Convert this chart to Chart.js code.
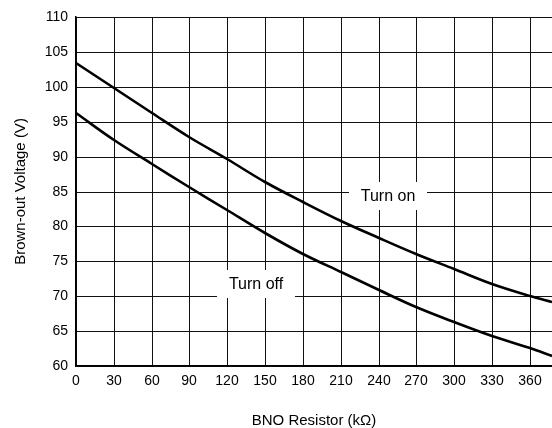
<!DOCTYPE html>
<html>
<head>
<meta charset="utf-8">
<script src="https://cdn.jsdelivr.net/npm/chart.js@4/dist/chart.umd.min.js"></script>
<style>
  html, body { margin: 0; padding: 0; background: #fff; }
  #wrap { width: 552px; height: 428px; position: relative; }
</style>
</head>
<body>
<div id="wrap"><canvas id="chart"></canvas></div>
<script>
  // BNO resistor (kOhm) sample points.
  const resistorK = [0, 30, 60, 90, 120, 150, 180, 210, 240, 270, 300, 330, 360, 377.5];
  const turnOnV = [103.4, 99.8, 96.2, 92.8, 89.6, 86.4, 83.5, 80.8, 78.3, 76.0, 73.9, 71.8, 70.1, 69.1];
  const turnOffV = [96.3, 92.4, 88.9, 85.6, 82.3, 79.1, 76.1, 73.4, 70.9, 68.5, 66.3, 64.3, 62.6, 61.5];

  // Curve labels, anchored in data coordinates.
  const labelNames = ["Turn on", "Turn off"];
  const labelX = [247.5, 142.7];
  const labelY = [84.3, 71.7];

  const FONT = "'Liberation Sans', Arial, sans-serif";

  function toPoints(xs, ys) {
    return xs.map(function (x, i) { return { x: x, y: ys[i] }; });
  }

  // White boxes with the curve names, drawn over the grid but under the curves.
  const curveLabels = {
    id: "curveLabels",
    beforeDatasetsDraw: function (chart) {
      const ctx = chart.ctx;
      const xs = chart.scales.x, ys = chart.scales.y;
      ctx.save();
      ctx.font = "16px " + FONT;
      ctx.textAlign = "center";
      ctx.textBaseline = "middle";
      labelNames.forEach(function (name, i) {
        const cx = xs.getPixelForValue(labelX[i]);
        const cy = ys.getPixelForValue(labelY[i]);
        ctx.fillStyle = "#fff";
        ctx.fillRect(cx - 39, cy - 14, 78, 28);
        ctx.fillStyle = "#000";
        ctx.fillText(name, cx, cy + 1);
      });
      ctx.restore();
    },
  };

  new Chart(document.getElementById("chart"), {
    type: "scatter",
    data: {
      datasets: [
        { label: "Turn on", data: toPoints(resistorK, turnOnV) },
        { label: "Turn off", data: toPoints(resistorK, turnOffV) },
      ].map(function (d) {
        return Object.assign(d, {
          showLine: true,
          borderColor: "#000",
          backgroundColor: "#000",
          borderWidth: 2.6,
          pointRadius: 0,
          tension: 0.35,
        });
      }),
    },
    options: {
      responsive: true,
      maintainAspectRatio: false,
      animation: false,
      layout: { padding: { top: 17, right: 0, left: 0, bottom: 0 } },
      plugins: { legend: { display: false }, tooltip: { enabled: false } },
      scales: {
        x: {
          type: "linear",
          min: 0,
          max: 377.5,
          alignToPixels: true,
          afterFit: function (s) { s.height = 62; },
          border: { color: "#000", width: 1.5 },
          grid: { color: "#111", lineWidth: 1, drawTicks: false },
          ticks: {
            stepSize: 30,
            includeBounds: false,
            padding: 7,
            color: "#000",
            font: { family: FONT, size: 14 },
          },
          title: {
            display: true,
            text: "BNO Resistor (kΩ)",
            color: "#000",
            font: { family: FONT, size: 15, lineHeight: 1.0 },
            padding: { top: 0, bottom: 0 },
          },
        },
        y: {
          min: 60,
          max: 110,
          alignToPixels: true,
          afterFit: function (s) { s.width = 76; },
          border: { color: "#000", width: 1.5 },
          grid: { color: "#111", lineWidth: 1, drawTicks: false },
          ticks: {
            stepSize: 5,
            padding: 8,
            color: "#000",
            font: { family: FONT, size: 14 },
          },
          title: {
            display: true,
            text: "Brown-out Voltage (V)",
            color: "#000",
            font: { family: FONT, size: 15, lineHeight: 1.2 },
            padding: { top: 12, bottom: 0 },
          },
        },
      },
    },
    plugins: [curveLabels],
  });
</script>
</body>
</html>
